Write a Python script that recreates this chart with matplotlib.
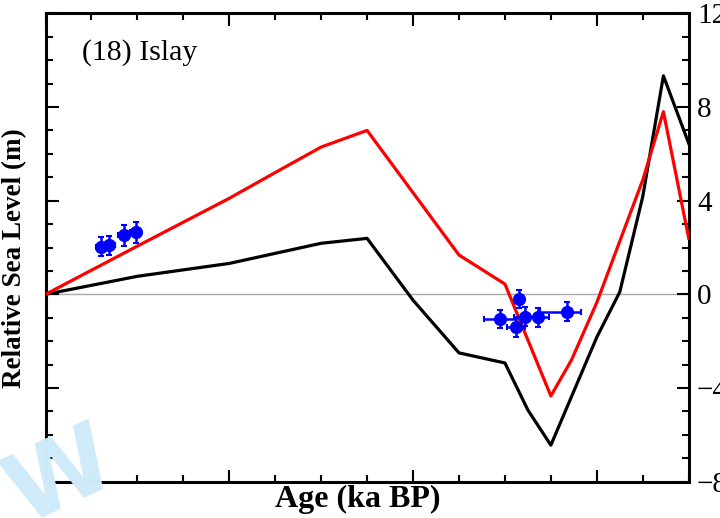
import matplotlib.pyplot as plt
from matplotlib.ticker import MultipleLocator

# model curves (age in ka BP, relative sea level in m)
red_age = [0, 2, 4, 5, 6, 7, 9, 10, 11, 11.45, 12, 13, 13.45, 14]
red_rsl = [0, 2.06, 4.1, 5.2, 6.29, 7.0, 1.68, 0.44, -4.34, -2.8, -0.35, 4.88, 7.8, 2.4]

black_age = [0, 2, 4, 5, 6, 7, 8, 9, 10, 10.5, 11, 12, 12.5, 13, 13.45, 14]
black_rsl = [0, 0.77, 1.32, 1.75, 2.18, 2.39, -0.25, -2.5, -2.93, -4.94, -6.44, -1.83, 0.1, 4.17, 9.33, 6.45]

# sea-level index points
obs_age = [1.21, 1.39, 1.70, 1.96, 9.89, 10.24, 10.31, 10.44, 10.71, 11.36]
obs_rsl = [2.03, 2.10, 2.53, 2.65, -1.05, -1.41, -0.20, -0.96, -0.98, -0.74]
obs_age_err_lo = [0.12, 0.12, 0.12, 0.12, 0.35, 0.2, 0.1, 0.25, 0.25, 0.6]
obs_age_err_hi = [0.12, 0.12, 0.12, 0.12, 0.35, 0.2, 0.1, 0.25, 0.25, 0.3]
obs_rsl_err = [0.4, 0.4, 0.45, 0.45, 0.4, 0.4, 0.4, 0.4, 0.4, 0.4]

plt.rcParams['font.family'] = ['Liberation Serif', 'DejaVu Serif']

fig = plt.figure(figsize=(7.2, 5.18), dpi=100)
ax = fig.add_axes([0.0632, 0.0701, 0.8933, 0.9042])

ax.axhline(0, color='#aaaaaa', lw=1, zorder=1)
ax.plot(black_age, black_rsl, color='black', lw=2.3, zorder=3)
ax.plot(red_age, red_rsl, color='red', lw=2.3, zorder=3)
ax.errorbar(obs_age, obs_rsl, xerr=[obs_age_err_lo, obs_age_err_hi], yerr=obs_rsl_err,
            fmt='o', color='blue', ms=8.5, elinewidth=1.8, capsize=2.5, capthick=1.5,
            zorder=4)

ax.set_xlim(0, 14)
ax.set_ylim(-8, 12)
ax.xaxis.set_major_locator(MultipleLocator(4))
ax.xaxis.set_minor_locator(MultipleLocator(1))
ax.yaxis.set_major_locator(MultipleLocator(4))
ax.yaxis.set_minor_locator(MultipleLocator(1))
ax.tick_params(which='both', direction='in', top=True, right=True, width=1.5,
               labelbottom=False, labelleft=False, labelright=True,
               labelsize=21, pad=6)
ax.tick_params(which='major', length=9)
ax.tick_params(which='minor', length=5)
for s in ax.spines.values():
    s.set_linewidth(2.2)

ax.text(0.057, 0.90, '(18) Islay', transform=ax.transAxes, fontsize=21.5)
fig.text(357.5 / 720, 1 - 499 / 518, 'Age (ka BP)', ha='center', va='center',
         fontsize=23, fontweight='bold')
fig.text(15 / 720, 1 - 258 / 518, 'Relative Sea Level (m)', ha='center', va='center',
         rotation=90, fontsize=19.5, fontweight='bold')

# faint watermark in the corner
fig.text(-8 / 720, 1 - 478 / 518, 'W', color='#cfeaf9', fontsize=70, fontweight='bold',
         family='DejaVu Sans', rotation=25, ha='left', va='center', zorder=0)

fig.savefig('out.png', dpi=100)
